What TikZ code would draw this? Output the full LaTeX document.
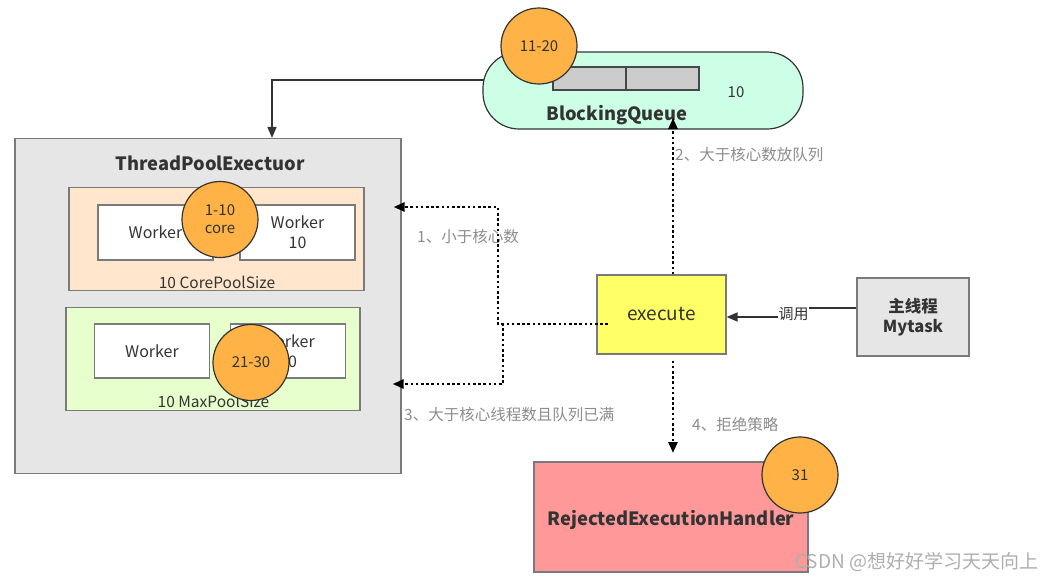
\documentclass[tikz,border=0pt]{standalone}
\usepackage{fontspec}
\setmainfont{Noto Sans CJK SC}
\usetikzlibrary{arrows.meta}
\definecolor{txt}{HTML}{333333}
\definecolor{lblc}{HTML}{8C8C8C}
\definecolor{edgec}{HTML}{7A7A7A}
\definecolor{poolc}{HTML}{E6E6E6}
\definecolor{corec}{HTML}{FFE6CC}
\definecolor{maxc}{HTML}{E6FFCC}
\definecolor{queuec}{HTML}{CCFFE6}
\definecolor{cellc}{HTML}{CCCCCC}
\definecolor{execc}{HTML}{FFFF66}
\definecolor{rejc}{HTML}{FF9999}
\definecolor{ballc}{HTML}{FFB347}
\begin{document}
\begin{tikzpicture}[x=1pt, y=-1pt,
  box/.style={draw=edgec, line width=1.2pt, inner sep=0pt, text=txt, align=center},
  ball/.style={circle, draw=txt, line width=1.2pt, fill=ballc, minimum size=76pt, inner sep=0pt,
    text=txt, align=center, font=\fontsize{15}{18}\selectfont},
  solidarr/.style={draw=txt, line width=1.6pt, -{Triangle[length=11pt,width=9pt]}},
  dotarr/.style={draw=black, line width=2.6pt, dash pattern=on 2.6pt off 2.6pt, -{Triangle[length=11pt,width=9pt]}},
  lbl/.style={text=lblc, inner sep=0pt, font=\fontsize{15.5}{18}\selectfont}]
  \useasboundingbox (0,0) rectangle (1062,581);
  % thread pool
  \node[box, fill=poolc, minimum width=386pt, minimum height=335pt] (pool) at (208,306) {};
  \node[text=txt, font=\bfseries\fontsize{18.3}{21}\selectfont] (pooltitle) at (210,163) {ThreadPoolExectuor};
  \node[box, fill=corec, minimum width=295pt, minimum height=103pt] (core) at (216.5,239) {};
  \node[box, fill=white, minimum width=115pt, minimum height=55pt, font=\fontsize{16}{20}\selectfont] (w1) at (155.5,232.5) {Worker};
  \node[box, fill=white, minimum width=115pt, minimum height=55pt, font=\fontsize{16}{20}\selectfont] (w2) at (297.5,232.5) {Worker\\10};
  \node[text=txt, inner sep=0pt, font=\fontsize{15.5}{18}\selectfont] (corelbl) at (217,282) {10 CorePoolSize};
  \node[ball] (b1) at (220,219.5) {1-10\\core};
  \node[box, fill=maxc, minimum width=294pt, minimum height=103pt] (max) at (213,359) {};
  \node[box, fill=white, minimum width=115pt, minimum height=54pt, font=\fontsize{16}{20}\selectfont] (w3) at (152,351) {Worker};
  \node[box, fill=white, minimum width=115pt, minimum height=54pt, font=\fontsize{16}{20}\selectfont] (w4) at (288,351) {Worker\\10};
  \node[text=txt, inner sep=0pt, font=\fontsize{15.5}{18}\selectfont] (maxlbl) at (213.5,401.5) {10 MaxPoolSize};
  \node[ball] (b3) at (251,362.5) {21-30};
  % queue
  \node[draw=txt, line width=1.2pt, fill=queuec, rounded corners=36pt, minimum width=320pt, minimum height=77pt] (queue) at (643,90.5) {};
  \node[draw=txt!90, line width=1.4pt, fill=cellc, minimum width=73pt, minimum height=23pt] (c1) at (589.5,78.5) {};
  \node[draw=txt!90, line width=1.4pt, fill=cellc, minimum width=73pt, minimum height=23pt] (c2) at (662.5,78.5) {};
  \node[text=txt, font=\fontsize{15}{17}\selectfont] (qsize) at (736,92) {10};
  \node[text=txt, font=\bfseries\fontsize{18.3}{21}\selectfont] (qtitle) at (617,115) {BlockingQueue};
  \node[ball] (b2) at (539,46) {11-20};
  % execute, caller, handler
  \node[box, fill=execc, minimum width=129pt, minimum height=79pt, font=\fontsize{19}{22}\selectfont] (exec) at (661.5,314.5) {execute};
  \node[box, fill=poolc, minimum width=112pt, minimum height=78pt, font=\bfseries\fontsize{16.5}{19.5}\selectfont] (main) at (913,317) {主线程\\Mytask};
  \node[box, fill=rejc, minimum width=274pt, minimum height=110pt] (rej) at (671,517) {};
  \node[text=txt, font=\bfseries\fontsize{18.3}{21}\selectfont] (rejtitle) at (671,520) {RejectedExecutionHandler};
  \node[ball] (b4) at (800,475) {31};
  % labels
  \node[text=txt, inner sep=0pt, font=\fontsize{15}{17}\selectfont] (call) at (793.5,314) {调用};
  \node[lbl, anchor=west] (l1) at (417,237) {1、小于核心数};
  \node[lbl, anchor=west] (l2) at (675,155) {2、大于核心数放队列};
  \node[lbl, anchor=west] (l3) at (404,415) {3、大于核心线程数且队列已满};
  \node[lbl, anchor=west] (l4) at (692,425) {4、拒绝策略};
  \node[text=lblc!70, anchor=west, inner sep=0pt, font=\fontsize{19}{22}\selectfont] (mark) at (795,562) {CSDN @想好好学习天天向上};
  % connectors
  \coordinate (qout) at (484,80);
  \coordinate (qin) at (673,118);
  \coordinate (split) at (608,324);
  \coordinate (rin) at (673,453);
  \draw[solidarr] (qout) -| ([xshift=64pt]pool.north);
  \draw[draw=txt, line width=1.6pt] (main.west |- 0,308) -- (call.east |- 0,308);
  \draw[solidarr] (call.west |- 0,317) -- (exec.east |- 0,317);
  \draw[dotarr] (exec.north -| qin) -- (qin);
  \draw[dotarr] ([yshift=-6pt]exec.south -| rin) -- (rin);
  \draw[dotarr] (split) -- (498,324) -- (498,207) -- ([xshift=-8pt]pool.east |- 0,207);
  \draw[dotarr] (split) -- (503,324) -- (503,384) -- ([xshift=-9pt]pool.east |- 0,384);
\end{tikzpicture}
\end{document}
